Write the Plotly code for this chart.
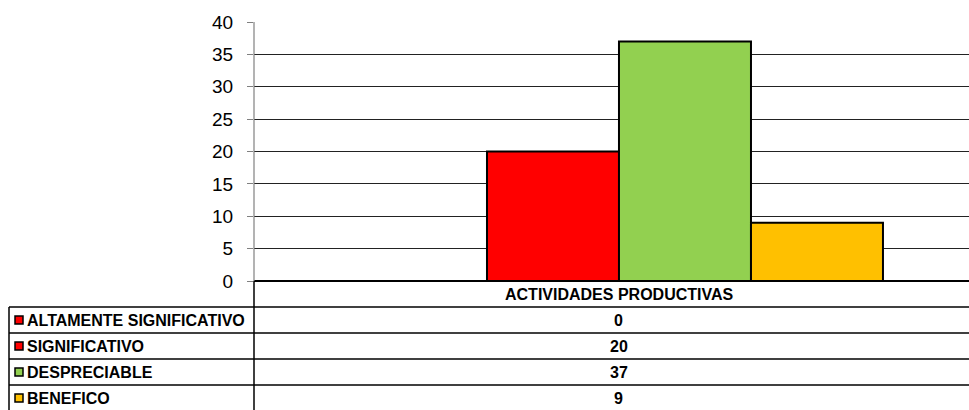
import plotly.graph_objects as go

# Data
categories = ["ACTIVIDADES PRODUCTIVAS"]
series_names = ["ALTAMENTE SIGNIFICATIVO", "SIGNIFICATIVO", "DESPRECIABLE", "BENEFICO"]
series_values = [0, 20, 37, 9]
series_colors = ["#FF0000", "#FF0000", "#92D050", "#FFC000"]
y_ticks = [0, 5, 10, 15, 20, 25, 30, 35, 40]

W, H = 969, 410
L, T, B = 254, 22, 129
plot_h = H - T - B
plot_w = W - L

FONT = "Liberation Sans, Arial, sans-serif"


def py(ypx):
    """Pixel row -> paper y coordinate."""
    return (H - B - ypx) / plot_h


def px(xpx):
    """Pixel column -> paper x coordinate."""
    return (xpx - L) / plot_w


fig = go.Figure()
for name, val, col in zip(series_names, series_values, series_colors):
    fig.add_trace(go.Bar(
        x=categories, y=[val], name=name,
        marker=dict(color=col, line=dict(color="#000000", width=2)),
        showlegend=False,
    ))

# Data table below the chart
row_lines = [307, 333, 359, 385]
row_centers = [320, 346, 372, 398]
shapes = []
for yl in row_lines:
    shapes.append(dict(type="line", xref="paper", yref="paper",
                       x0=px(9), x1=1.02, y0=py(yl), y1=py(yl),
                       line=dict(color="#000000", width=1.5)))
# left border of the table
shapes.append(dict(type="line", xref="paper", yref="paper",
                   x0=px(9), x1=px(9), y0=py(307), y1=py(412),
                   line=dict(color="#000000", width=1.5)))
# vertical divider continuing the value axis
shapes.append(dict(type="line", xref="paper", yref="paper",
                   x0=0, x1=0, y0=1, y1=py(281),
                   line=dict(color="#808080", width=1.2)))
shapes.append(dict(type="line", xref="paper", yref="paper",
                   x0=0, x1=0, y0=py(281), y1=py(412),
                   line=dict(color="#000000", width=1.5)))

TXT = dict(family=FONT, size=16, color="#000000")

annotations = [dict(
    text="<b>" + categories[0] + "</b>", xref="x", yref="paper",
    x=categories[0], y=py(294), showarrow=False, xanchor="center", yanchor="middle",
    font=TXT,
)]
for name, val, col, yc in zip(series_names, series_values, series_colors, row_centers):
    # legend key
    shapes.append(dict(type="rect", xref="paper", yref="paper",
                       x0=px(15), x1=px(23), y0=py(yc - 4), y1=py(yc + 4),
                       fillcolor=col, line=dict(color="#000000", width=1.5)))
    annotations.append(dict(
        text="<b>" + name + "</b>", xref="paper", yref="paper",
        x=px(25), y=py(yc), showarrow=False, xanchor="left", yanchor="middle",
        font=TXT,
    ))
    annotations.append(dict(
        text="<b>" + str(val) + "</b>", xref="x", yref="paper",
        x=categories[0], y=py(yc), showarrow=False, xanchor="center", yanchor="middle",
        font=TXT,
    ))

fig.update_layout(
    width=W, height=H,
    margin=dict(l=L, r=0, t=T, b=B, pad=0),
    paper_bgcolor="#FFFFFF", plot_bgcolor="#FFFFFF",
    barmode="group", bargap=0.2767, bargroupgap=0,
    shapes=shapes, annotations=annotations,
    xaxis=dict(
        type="category", range=[-0.5, 0.4795],
        showgrid=False, zeroline=False, showline=False,
        showticklabels=False, ticks="",
    ),
    yaxis=dict(
        range=[0, 40], tickvals=y_ticks,
        showgrid=True, gridcolor="#222222", gridwidth=1,
        zeroline=True, zerolinecolor="#000000", zerolinewidth=1.5,
        showline=False,
        ticks="outside", ticklen=6, tickcolor="#808080", tickwidth=1,
        ticklabelstandoff=10,
        tickfont=dict(family=FONT, size=19, color="#000000"),
    ),
)

fig.write_html("out.html")
